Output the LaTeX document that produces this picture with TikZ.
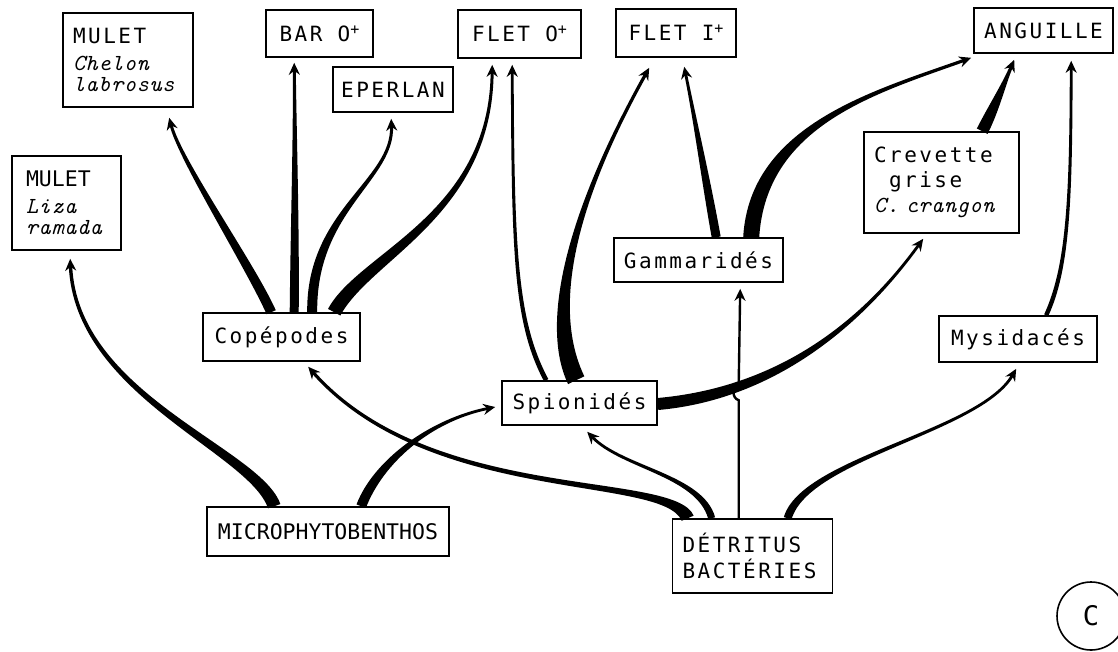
\documentclass[tikz,border=0pt]{standalone}
\usepackage{fontspec}
\usetikzlibrary{calc,arrows.meta}
\newfontfamily\typw[LetterSpace=12]{DejaVu Sans Mono}
\newfontfamily\typc{DejaVu Sans Mono}
\newfontfamily\typi{lmmono10-italic.otf}[LetterSpace=3]
\newcommand\species[1]{{\typi\fontsize{23}{21.5}\selectfont #1}}
\newcommand\plus{\raisebox{7pt}{\fontsize{15}{15}\selectfont +}}

% tapered flow: start, control 1, control 2, tip, half width at start, half width at end
\newcommand\flow[6]{%
  \coordinate (fa) at (#1);
  \coordinate (fb) at (#2);
  \coordinate (fc) at (#3);
  \coordinate (ft) at (#4);
  \coordinate (fd) at ($(ft)!7pt!(fc)$);
  \coordinate (fal) at ($(fa)!#5!90:(fb)$);
  \coordinate (far) at ($(fa)!#5!-90:(fb)$);
  \coordinate (fdl) at ($(fd)!#6!-90:(fc)$);
  \coordinate (fdr) at ($(fd)!#6!90:(fc)$);
  \fill (fal) .. controls ($(fb)+(fal)-(fa)$) and ($(fc)+(fdl)-(fd)$) .. (fdl)
        -- (fdr) .. controls ($(fc)+(fdr)-(fd)$) and ($(fb)+(far)-(fa)$) .. (far) -- cycle;
  \draw[head] (fd) -- (ft);
}

\begin{document}
\begin{tikzpicture}[x=1pt,y=-1pt,
  box/.style={draw, line width=1.6pt, inner sep=0pt,
    font=\typw\fontsize{21}{21.5}\selectfont},
  multi/.style={box, align=left, inner xsep=#1},
  tip/.style={-{Stealth[length=12pt,width=11pt,inset=4pt]}},
  head/.style={line width=2.2pt, tip},
  thinflow/.style={line width=2.4pt}]
\useasboundingbox (0,0) rectangle (1118,651);

% boxes
\node[multi=10pt, minimum width=130pt, minimum height=94pt, text width=110pt] (chelon) at (128,60)
  {MULET\\[5pt]\species{Chelon}\\\species{labrosus}};
\node[box, minimum width=107pt, minimum height=47pt] (bar) at (319.5,33.5) {BAR O\plus};
\node[box, minimum width=120pt, minimum height=45pt] (eperlan) at (393,89.5) {EPERLAN};
\node[box, minimum width=123pt, minimum height=48pt] (fleto) at (519.5,34) {FLET O\plus};
\node[box, minimum width=120pt, minimum height=48pt] (fleti) at (676,33) {FLET I\plus};
\node[box, minimum width=139pt, minimum height=45pt] (anguille) at (1043.5,30.5) {ANGUILLE};
\node[multi=14pt, minimum width=109pt, minimum height=94pt, text width=81pt] (liza) at (66.5,203)
  {{\typc\fontsize{21.5}{21}\selectfont MULET}\\[5pt]\species{Liza}\\\species{ramada}};
\node[multi=10pt, minimum width=155pt, minimum height=101pt, text width=135pt,
      font=\typw\fontsize{21}{25}\selectfont] (crevette) at (941.5,182.5)
  {Crevette\\\hspace*{15pt}grise\\\species{C. crangon}};
\node[box, minimum width=169pt, minimum height=44pt] (gamma) at (698.5,260) {Gammaridés};
\node[box, minimum width=157pt, minimum height=48pt] (cop) at (281.5,337) {Copépodes};
\node[box, minimum width=158pt, minimum height=46pt] (mysid) at (1018,339) {Mysidacés};
\node[box, minimum width=155pt, minimum height=44pt] (spion) at (579.5,403) {Spionidés};
\node[box, minimum width=242pt, minimum height=49pt, font=\typc\fontsize{21.5}{21}\selectfont]
  (micro) at (328,531.5) {MICROPHYTOBENTHOS};
\node[multi=10pt, minimum width=157pt, minimum height=74pt, text width=140pt,
      font=\typw\fontsize{21}{26}\selectfont] (detritus) at (752.5,556)
  {DÉTRITUS\\BACTÉRIES};
\node[draw, circle, line width=1.6pt, minimum size=68pt, inner sep=0pt,
      font=\typc\fontsize{27}{27}\selectfont] (tag) at (1091,616) {C};

% Copepodes to their predators
\flow{$(cop.north west)+(69,0)$}{250,265}{180,160}{$(chelon.south west)+(107,10)$}{5pt}{1.5pt}
\flow{$(cop.north west)+(92,0)$}{295,230}{295,130}{$(bar.south west)+(29,5)$}{4.5pt}{1.5pt}
\flow{$(cop.north west)+(110,0)$}{311,210}{394,180}{$(eperlan.south west)+(59,6)$}{5pt}{1.5pt}
\flow{$(cop.north west)+(132,0)$}{365,255}{491,215}{$(fleto.south west)+(35,6)$}{7pt}{1.5pt}

% microphytobenthos
\flow{$(micro.north west)+(68,0)$}{255,450}{76,395}{$(liza.south west)+(59,8)$}{6.5pt}{1.7pt}
\flow{$(micro.north west)+(155,0)$}{378,462}{430,420}{$(spion.west)+(-6,4)$}{5pt}{1.4pt}

% detritus and bacteria
\flow{$(detritus.north west)+(16,0)$}{668,472}{430,505}{$(cop.south west)+(106,5)$}{6.5pt}{1.6pt}
\flow{$(detritus.north west)+(40,0)$}{700,475}{622,468}{$(spion.south west)+(86,6)$}{3.5pt}{1.4pt}
\flow{$(detritus.north west)+(116,0)$}{805,458}{980,432}{$(mysid.south west)+(78,6)$}{4pt}{1.4pt}
\draw[thinflow, tip]
  ($(detritus.north west)+(67,0)$) -- ++(0,-118)
  .. controls +(-7,-2) and +(-7,2) .. ++(0,-16)
  -- ($(gamma.south west)+(127,6)$);

% spionidae
\flow{$(spion.north west)+(45,0)$}{515,322}{513,250}{$(fleto.south west)+(55,6)$}{2.4pt}{1.4pt}
\flow{$(spion.north west)+(75,0)$}{552,330}{556,235}{$(fleti.south west)+(34,10)$}{9pt}{1.6pt}
\flow{$(spion.east)+(0,1)$}{760,395}{850,340}{$(crevette.south west)+(60,5)$}{6pt}{1.4pt}

% gammaridae, shrimp, mysids
\flow{$(gamma.north west)+(103,0)$}{706,180}{695,120}{$(fleti.south west)+(69,9)$}{4.5pt}{1.4pt}
\flow{$(gamma.north west)+(138,0)$}{758,125}{875,92}{$(anguille.south west)+(-2,4)$}{8pt}{1.6pt}
\flow{$(crevette.north west)+(119,0)$}{994,108}{1004,84}{$(anguille.south west)+(41,6)$}{6pt}{1.6pt}
\flow{$(mysid.north west)+(108,0)$}{1068,268}{1071,200}{$(anguille.south west)+(98,7)$}{2.2pt}{1.4pt}
\end{tikzpicture}
\end{document}
